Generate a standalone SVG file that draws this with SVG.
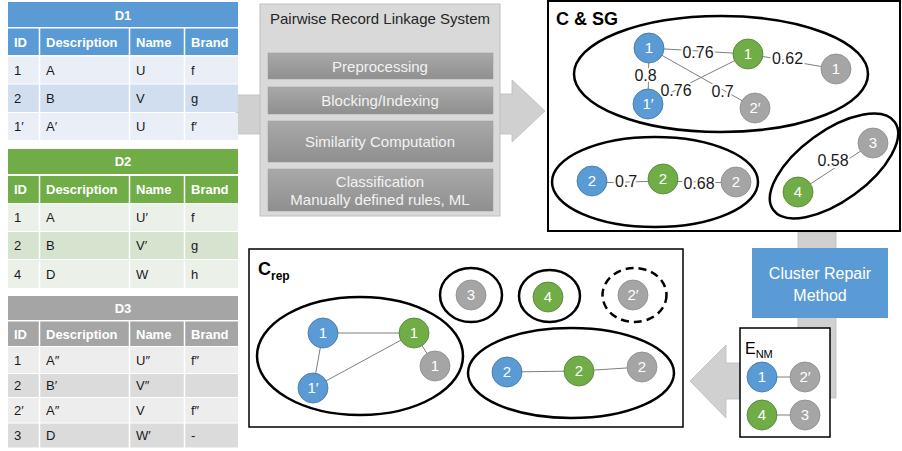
<svg xmlns="http://www.w3.org/2000/svg" width="902" height="451" viewBox="0 0 902 451">
<style>
text{font-family:"Liberation Sans",Arial,sans-serif}
.th{font-size:13px;font-weight:bold;fill:#fff}
.td{font-size:13px;fill:#1a1a1a}
.sep{stroke:#fff;stroke-width:1.5}
.nb{fill:#5b9bd5;stroke:#41719c;stroke-width:0.8}
.ng{fill:#70ad47;stroke:#507e32;stroke-width:0.8}
.ny{fill:#a5a5a5;stroke:#8a8a8a;stroke-width:0.8}
.nt{font-size:15px;fill:#fff;text-anchor:middle}
.edge{stroke:#7f7f7f;stroke-width:1;fill:none}
.el{font-size:16px;fill:#1a1a1a;text-anchor:middle;stroke:#fff;stroke-width:4;paint-order:stroke;stroke-linejoin:round}
.clu{fill:none;stroke:#000;stroke-width:2.5}
.bar{fill:url(#barg);stroke:#9a9a9a;stroke-width:0.5}
.bt{font-size:15px;fill:#f2f2f2;text-anchor:middle}
.arrow{fill:#d0d0d0;stroke:#bdbdbd;stroke-width:0.8}
</style>
<defs>
<linearGradient id="barg" x1="0" y1="0" x2="0" y2="1">
<stop offset="0" stop-color="#a9a9a9"/>
<stop offset="1" stop-color="#8f8f8f"/>
</linearGradient>
</defs>
<rect width="902" height="451" fill="#fff"/>

<g id="arrows">
<rect class="arrow" x="236" y="95" width="26" height="39"/>
<polygon class="arrow" points="498,94 512,94 512,80 545,111 512,142 512,134 498,134"/>
<rect class="arrow" x="798" y="232" width="38" height="166"/>
<polygon class="arrow" points="690,381 726,345 726,363 762,363 762,399 726,399 726,418"/>
</g>

<g id="table-d1">
<rect x="8" y="2" width="230" height="25" fill="#5b9bd5"/>
<rect x="8" y="28.5" width="230" height="26.5" fill="#5b9bd5"/>
<rect x="8" y="56.5" width="230" height="27" fill="#e9eef7"/>
<rect x="8" y="84.5" width="230" height="27.5" fill="#d0deef"/>
<rect x="8" y="113" width="230" height="27" fill="#e9eef7"/>
<line class="sep" x1="39.5" y1="28" x2="39.5" y2="140"/>
<line class="sep" x1="129.5" y1="28" x2="129.5" y2="140"/>
<line class="sep" x1="184.5" y1="28" x2="184.5" y2="140"/>
<text class="th" x="123" y="19.5" text-anchor="middle">D1</text>
<text class="th" x="14" y="46.5">ID</text><text class="th" x="46" y="46.5">Description</text><text class="th" x="136" y="46.5">Name</text><text class="th" x="191" y="46.5">Brand</text>
<text class="td" x="14" y="74.5">1</text><text class="td" x="46" y="74.5">A</text><text class="td" x="136" y="74.5">U</text><text class="td" x="191" y="74.5">f</text>
<text class="td" x="14" y="102.5">2</text><text class="td" x="46" y="102.5">B</text><text class="td" x="136" y="102.5">V</text><text class="td" x="191" y="102.5">g</text>
<text class="td" x="14" y="130.5">1′</text><text class="td" x="46" y="130.5">A′</text><text class="td" x="136" y="130.5">U</text><text class="td" x="191" y="130.5">f′</text>
</g>

<g id="table-d2">
<rect x="8" y="149" width="230" height="25" fill="#70ad47"/>
<rect x="8" y="176" width="230" height="27" fill="#70ad47"/>
<rect x="8" y="204" width="230" height="27" fill="#ebf1e9"/>
<rect x="8" y="232" width="230" height="27" fill="#d5e3cf"/>
<rect x="8" y="260" width="230" height="28" fill="#ebf1e9"/>
<line class="sep" x1="39.5" y1="176" x2="39.5" y2="288"/>
<line class="sep" x1="129.5" y1="176" x2="129.5" y2="288"/>
<line class="sep" x1="184.5" y1="176" x2="184.5" y2="288"/>
<text class="th" x="123" y="166" text-anchor="middle">D2</text>
<text class="th" x="14" y="194">ID</text><text class="th" x="46" y="194">Description</text><text class="th" x="136" y="194">Name</text><text class="th" x="191" y="194">Brand</text>
<text class="td" x="14" y="222">1</text><text class="td" x="46" y="222">A</text><text class="td" x="136" y="222">U′</text><text class="td" x="191" y="222">f</text>
<text class="td" x="14" y="250">2</text><text class="td" x="46" y="250">B</text><text class="td" x="136" y="250">V′</text><text class="td" x="191" y="250">g</text>
<text class="td" x="14" y="278.5">4</text><text class="td" x="46" y="278.5">D</text><text class="td" x="136" y="278.5">W</text><text class="td" x="191" y="278.5">h</text>
</g>

<g id="table-d3">
<rect x="8" y="296" width="230" height="24" fill="#a5a5a5"/>
<rect x="8" y="321.5" width="230" height="24.5" fill="#a5a5a5"/>
<rect x="8" y="347" width="230" height="26" fill="#ededed"/>
<rect x="8" y="374" width="230" height="23" fill="#dbdbdb"/>
<rect x="8" y="398" width="230" height="24.5" fill="#ededed"/>
<rect x="8" y="423.5" width="230" height="24" fill="#dbdbdb"/>
<line class="sep" x1="39.5" y1="321" x2="39.5" y2="448"/>
<line class="sep" x1="129.5" y1="321" x2="129.5" y2="448"/>
<line class="sep" x1="184.5" y1="321" x2="184.5" y2="448"/>
<text class="th" x="123" y="312.5" text-anchor="middle">D3</text>
<text class="th" x="14" y="338.5">ID</text><text class="th" x="46" y="338.5">Description</text><text class="th" x="136" y="338.5">Name</text><text class="th" x="191" y="338.5">Brand</text>
<text class="td" x="14" y="364.5">1</text><text class="td" x="46" y="364.5">A″</text><text class="td" x="136" y="364.5">U″</text><text class="td" x="191" y="364.5">f″</text>
<text class="td" x="14" y="390">2</text><text class="td" x="46" y="390">B′</text><text class="td" x="136" y="390">V″</text>
<text class="td" x="14" y="414.5">2′</text><text class="td" x="46" y="414.5">A″</text><text class="td" x="136" y="414.5">V</text><text class="td" x="191" y="414.5">f″</text>
<text class="td" x="14" y="439.5">3</text><text class="td" x="46" y="439.5">D</text><text class="td" x="136" y="439.5">W′</text><text class="td" x="191" y="439.5">-</text>
</g>

<g id="linkage-system">
<rect x="260" y="4" width="240" height="212" fill="#d9d9d9" stroke="#bfbfbf" stroke-width="1"/>
<text x="380" y="24" font-size="15" fill="#262626" text-anchor="middle">Pairwise Record Linkage System</text>
<rect class="bar" x="268" y="53" width="225" height="26"/>
<text class="bt" x="380" y="71.5">Preprocessing</text>
<rect class="bar" x="268" y="87" width="225" height="27"/>
<text class="bt" x="380" y="106">Blocking/Indexing</text>
<rect class="bar" x="268" y="121" width="225" height="41"/>
<text class="bt" x="380" y="147">Similarity Computation</text>
<rect class="bar" x="268" y="169" width="225" height="42"/>
<text class="bt" x="380" y="187">Classification</text>
<text class="bt" x="380" y="205">Manually defined rules, ML</text>
</g>

<g id="c-sg">
<rect x="548" y="1" width="352" height="230" fill="#fff" stroke="#000" stroke-width="2"/>
<text x="556" y="25" font-size="18" font-weight="bold" fill="#000">C &amp; SG</text>
<ellipse class="clu" cx="721" cy="74" rx="147" ry="58"/>
<ellipse class="clu" cx="655" cy="182" rx="103" ry="45"/>
<ellipse class="clu" cx="834" cy="166" rx="75" ry="35" transform="rotate(-36 834 166)"/>
</g>

<g id="connectors">
<line class="edge" x1="649" y1="48" x2="748" y2="54"/>
<line class="edge" x1="748" y1="54" x2="836" y2="69"/>
<line class="edge" x1="649" y1="48" x2="648" y2="104"/>
<line class="edge" x1="748" y1="54" x2="648" y2="104"/>
<line class="edge" x1="649" y1="48" x2="755" y2="108"/>
<line class="edge" x1="592" y1="183" x2="663" y2="181"/>
<line class="edge" x1="663" y1="181" x2="736" y2="183"/>
<line class="edge" x1="798" y1="192" x2="873" y2="143"/>
<line class="edge" x1="323" y1="333" x2="414" y2="333"/>
<line class="edge" x1="323" y1="333" x2="313" y2="388"/>
<line class="edge" x1="313" y1="388" x2="414" y2="333"/>
<line class="edge" x1="414" y1="333" x2="435" y2="366"/>
<line class="edge" x1="507" y1="372" x2="579" y2="371"/>
<line class="edge" x1="579" y1="371" x2="642" y2="367"/>
<line class="edge" x1="762" y1="377" x2="805" y2="377"/>
<line class="edge" x1="762" y1="415" x2="805" y2="415"/>
<text class="el" x="698" y="57.5">0.76</text>
<text class="el" x="787.5" y="63.5">0.62</text>
<text class="el" x="645.5" y="81">0.8</text>
<text class="el" x="676" y="95.5">0.76</text>
<text class="el" x="722.5" y="97">0.7</text>
<text class="el" x="626" y="187">0.7</text>
<text class="el" x="699" y="189">0.68</text>
<text class="el" x="833" y="166">0.58</text>
</g>

<g id="sg-b1"><circle class="nb" cx="649" cy="48" r="15"/><text class="nt" x="649" y="53">1</text></g>
<g id="sg-g1"><circle class="ng" cx="748" cy="54" r="15"/><text class="nt" x="748" y="59">1</text></g>
<g id="sg-y1"><circle class="ny" cx="836" cy="69" r="15"/><text class="nt" x="836" y="74">1</text></g>
<g id="sg-b1p"><circle class="nb" cx="648" cy="104" r="15"/><text class="nt" x="648" y="109">1′</text></g>
<g id="sg-y2p"><circle class="ny" cx="755" cy="108" r="15"/><text class="nt" x="755" y="113">2′</text></g>
<g id="sg-b2"><circle class="nb" cx="592" cy="181" r="15"/><text class="nt" x="592" y="186">2</text></g>
<g id="sg-g2"><circle class="ng" cx="663" cy="179" r="15"/><text class="nt" x="663" y="184">2</text></g>
<g id="sg-y2"><circle class="ny" cx="736" cy="182" r="15"/><text class="nt" x="736" y="187">2</text></g>
<g id="sg-y3"><circle class="ny" cx="873" cy="143" r="15"/><text class="nt" x="873" y="148">3</text></g>
<g id="sg-g4"><circle class="ng" cx="798" cy="192" r="15"/><text class="nt" x="798" y="197">4</text></g>

<g id="crep">
<rect x="249" y="249" width="434" height="178" fill="none" stroke="#000" stroke-width="1.5"/>
<text x="258" y="275" font-size="18" font-weight="bold" fill="#000">C<tspan font-size="12" dy="5">rep</tspan></text>
<ellipse class="clu" cx="360" cy="356" rx="103" ry="59"/>
<ellipse class="clu" cx="571" cy="373" rx="103" ry="45"/>
<ellipse class="clu" cx="471" cy="295" rx="31" ry="27"/>
<ellipse class="clu" cx="549.5" cy="296" rx="30.5" ry="26"/>
<ellipse class="clu" cx="634.5" cy="295" rx="32" ry="27" stroke-dasharray="8 5"/>
</g>
<g id="cr-b1"><circle class="nb" cx="323" cy="333" r="15"/><text class="nt" x="323" y="338">1</text></g>
<g id="cr-g1"><circle class="ng" cx="414" cy="333" r="15"/><text class="nt" x="414" y="338">1</text></g>
<g id="cr-y1"><circle class="ny" cx="435" cy="366" r="15"/><text class="nt" x="435" y="371">1</text></g>
<g id="cr-b1p"><circle class="nb" cx="313" cy="388" r="15"/><text class="nt" x="313" y="393">1′</text></g>
<g id="cr-b2"><circle class="nb" cx="507" cy="372" r="15"/><text class="nt" x="507" y="377">2</text></g>
<g id="cr-g2"><circle class="ng" cx="579" cy="371" r="15"/><text class="nt" x="579" y="376">2</text></g>
<g id="cr-y2"><circle class="ny" cx="642" cy="367" r="15"/><text class="nt" x="642" y="372">2</text></g>
<g id="cr-y3"><circle class="ny" cx="471" cy="295" r="15"/><text class="nt" x="471" y="300">3</text></g>
<g id="cr-g4"><circle class="ng" cx="548" cy="297" r="15"/><text class="nt" x="548" y="302">4</text></g>
<g id="cr-y2p"><circle class="ny" cx="633" cy="295" r="15"/><text class="nt" x="633" y="300">2′</text></g>

<g id="cluster-repair">
<rect x="752" y="248" width="136" height="70" fill="#5b9bd5"/>
<text x="820" y="279" font-size="16" fill="#fff" text-anchor="middle">Cluster Repair</text>
<text x="820" y="301" font-size="16" fill="#fff" text-anchor="middle">Method</text>
</g>

<g id="enm">
<rect x="740" y="328" width="90" height="109" fill="#fff" stroke="#000" stroke-width="1.5"/>
<text x="745" y="354" font-size="16" fill="#000">E<tspan font-size="11" dy="4">NM</tspan></text>
<line class="edge" x1="762" y1="377" x2="805" y2="377"/>
<line class="edge" x1="762" y1="415" x2="805" y2="415"/>
</g>
<g id="en-b1"><circle class="nb" cx="762" cy="377" r="15"/><text class="nt" x="762" y="382">1</text></g>
<g id="en-y2p"><circle class="ny" cx="805" cy="377" r="15"/><text class="nt" x="805" y="382">2′</text></g>
<g id="en-g4"><circle class="ng" cx="762" cy="415" r="15"/><text class="nt" x="762" y="420">4</text></g>
<g id="en-y3"><circle class="ny" cx="805" cy="415" r="15"/><text class="nt" x="805" y="420">3</text></g>
</svg>
